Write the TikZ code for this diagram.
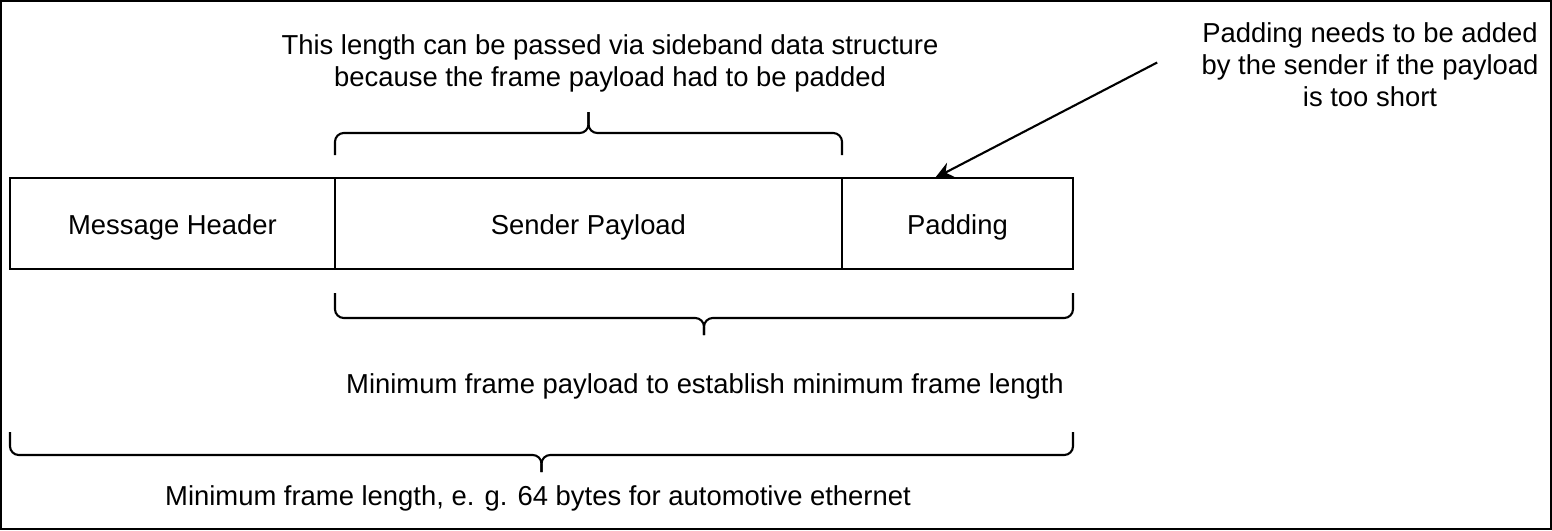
\documentclass[tikz,border=0pt]{standalone}
\usepackage{fontspec}
\setmainfont{Liberation Sans}
\usetikzlibrary{positioning,arrows.meta,calc}

\begin{document}
\begin{tikzpicture}[>={Stealth[length=5pt,width=4.5pt]},
  every node/.style={font=\fontsize{7.8}{9.1}\selectfont},
  field/.style={draw,line width=0.6pt,minimum height=0.91cm,inner sep=0pt,outer sep=0pt,text height=6.5pt,text depth=0pt},
  brk/.style={line width=0.6pt,rounded corners=2.5pt}]
\useasboundingbox (0,0) rectangle (15.52,5.30);
\draw[line width=0.5pt] (0.01,0.01) rectangle (15.51,5.29);
% frame fields
\node[field,minimum width=3.25cm] (hdr) at (1.725,3.065) {Message Header};
\node[field,minimum width=5.07cm,right=0pt of hdr] (pay) {Sender Payload};
\node[field,minimum width=2.31cm,right=0pt of pay] (pad) {Padding};
% brace over the payload
\coordinate (tipT) at ($(pay.north)+(0,0.66)$);
\draw[brk] ($(pay.north west)+(0,0.23)$) |- ($(tipT)+(0,-0.21)$) -- (tipT);
\draw[brk] ($(pay.north east)+(0,0.23)$) |- ($(tipT)+(0,-0.21)$) -- (tipT);
\node[align=center] (side) at (6.10,4.67) {This length can be passed via sideband data structure\\because the frame payload had to be padded};
% brace under payload and padding
\coordinate (tipP) at ($(pay.south west)!0.5!(pad.south east)+(0,-0.66)$);
\draw[brk] ($(pay.south west)+(0,-0.24)$) |- ($(tipP)+(0,0.17)$) -- (tipP);
\draw[brk] ($(pad.south east)+(0,-0.24)$) |- ($(tipP)+(0,0.17)$) -- (tipP);
\node (paytxt) at (7.05,1.44) {Minimum frame payload to establish minimum frame length};
% brace under the whole frame
\coordinate (tipF) at ($(hdr.south west)!0.5!(pad.south east)+(0,-2.03)$);
\draw[brk] ($(hdr.south west)+(0,-1.63)$) |- ($(tipF)+(0,0.17)$) -- (tipF);
\draw[brk] ($(pad.south east)+(0,-1.63)$) |- ($(tipF)+(0,0.17)$) -- (tipF);
\node (lentxt) at (5.38,0.32) {Minimum frame length, e. g. 64 bytes for automotive ethernet};
% note on the padding
\node[align=center] (note) at (13.70,4.655) {Padding needs to be added\\by the sender if the payload\\is too short};
\coordinate (noteend) at ($(note.west)+(-0.32,0.02)$);
\draw[->,line width=0.6pt] (noteend) -- ($(pad.north)+(-0.225,0)$);
\end{tikzpicture}
\end{document}
